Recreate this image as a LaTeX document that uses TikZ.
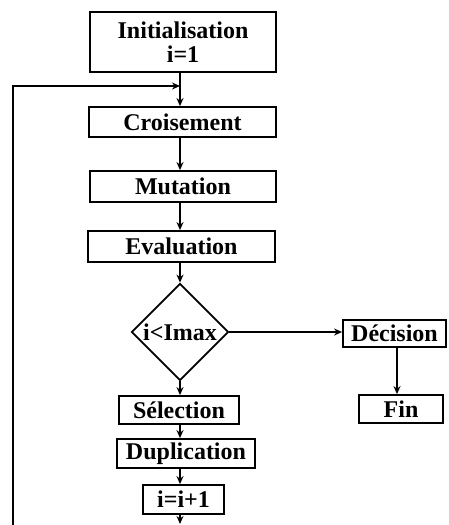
\documentclass[tikz,border=0pt]{standalone}
\usepackage{fontspec}
\setmainfont{Liberation Serif}
\usetikzlibrary{shapes.geometric,arrows.meta}
\begin{document}
\begin{tikzpicture}[x=1pt,y=-1pt,
  every node/.style={font=\fontsize{24}{25}\selectfont\bfseries, inner sep=0pt},
  box/.style={draw, line width=1.8pt, align=center},
  dia/.style={draw, line width=1.8pt, diamond, minimum width=97pt, minimum height=97pt, aspect=1},
  arr/.style={line width=1.8pt, -{Stealth[length=8pt,width=7pt]}},
  ln/.style={line width=1.8pt}]
\useasboundingbox (0,0) rectangle (448,525);
\node[box, minimum width=186pt, minimum height=60pt] (init) at (183,42) {Initialisation\\[-1pt]i=1};
\node[box, minimum width=187pt, minimum height=30pt] (crois) at (182.5,122) {Croisement};
\node[box, minimum width=186pt, minimum height=31pt] (mut) at (183,186.5) {Mutation};
\node[box, minimum width=187pt, minimum height=31pt] (eval) at (181.5,246.5) {Evaluation};
\node[dia] (test) at (180,332) {};
\node at (180,332) {i<Imax};
\node[box, minimum width=103pt, minimum height=27pt] (dec) at (394.5,333.5) {Décision};
\node[box, minimum width=84pt, minimum height=28pt] (fin) at (401,409) {Fin};
\node[box, minimum width=120pt, minimum height=28pt] (sel) at (179,410) {Sélection};
\node[box, minimum width=138pt, minimum height=29pt] (dup) at (186,453.5) {Duplication};
\node[box, minimum width=81pt, minimum height=29pt] (inc) at (183.5,499.5) {i=i+1};
\coordinate (trunk) at (180,0);
\coordinate (dtrunk) at (397,0);
\coordinate (lt) at (13,86);
\coordinate (lb) at (13,525);
\coordinate (bend) at (180,524);
\draw[arr] (init.south -| trunk) -- (crois.north -| trunk);
\draw[arr] (lb) -- (lt) -- (lt -| trunk);
\draw[arr] (crois.south -| trunk) -- (mut.north -| trunk);
\draw[arr] (mut.south -| trunk) -- (eval.north -| trunk);
\draw[arr] (eval.south -| trunk) -- (test.north);
\draw[arr] (test.east) -- (test.east -| dec.west);
\draw[arr] (dec.south -| dtrunk) -- (fin.north -| dtrunk);
\draw[arr] (test.south) -- (sel.north -| trunk);
\draw[arr] (sel.south -| trunk) -- (dup.north -| trunk);
\draw[arr] (dup.south -| trunk) -- (inc.north -| trunk);
\draw[arr] (inc.south -| trunk) -- (bend);
\end{tikzpicture}
\end{document}
